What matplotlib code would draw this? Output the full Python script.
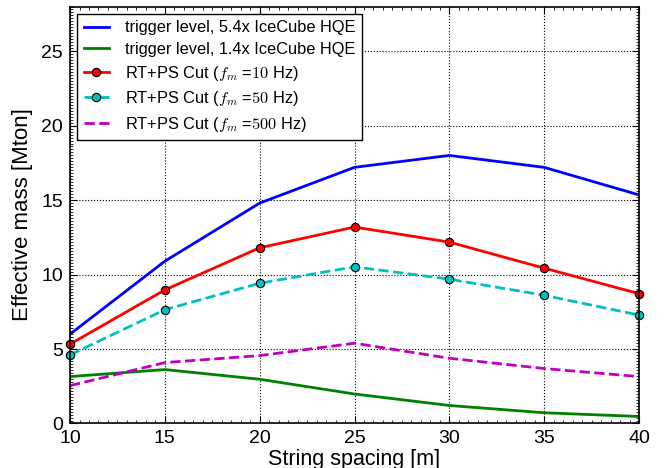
import matplotlib
matplotlib.use("Agg")
import matplotlib.pyplot as plt
from matplotlib.ticker import MultipleLocator

plt.rcParams["font.family"] = ["Liberation Sans", "DejaVu Sans"]
plt.rcParams["mathtext.fontset"] = "cm"

spacing = [10, 15, 20, 25, 30, 35, 40]

trig_54 = [6.0, 10.9, 14.8, 17.2, 18.0, 17.2, 15.35]
trig_14 = [3.15, 3.62, 2.97, 1.98, 1.21, 0.72, 0.47]
cut_10hz = [5.33, 8.97, 11.8, 13.19, 12.18, 10.43, 8.72]
cut_50hz = [4.61, 7.64, 9.42, 10.52, 9.69, 8.61, 7.28]
cut_500hz = [2.54, 4.09, 4.56, 5.39, 4.38, 3.69, 3.15]


def main() -> None:
    fig = plt.figure(figsize=(6.65, 4.68), dpi=100)
    ax = fig.add_axes([0.1053, 0.0951, 0.8556, 0.891])

    ax.plot(spacing, trig_54, color="b", lw=2, label="trigger level, 5.4x IceCube HQE")
    ax.plot(spacing, trig_14, color="g", lw=2, label="trigger level, 1.4x IceCube HQE")
    ax.plot(spacing, cut_10hz, color="r", lw=2, marker="o", ms=6, mec="k", mew=0.8,
            label=r"RT+PS Cut ($f_m$ =$10$ Hz)", clip_on=False)
    ax.plot(spacing, cut_50hz, color="c", lw=2, ls="--", marker="o", ms=6, mec="k", mew=0.8,
            label=r"RT+PS Cut ($f_m$ =$50$ Hz)", clip_on=False)
    ax.plot(spacing, cut_500hz, color="m", lw=2, ls="--",
            label=r"RT+PS Cut ($f_m$ =$500$ Hz)")

    ax.set_xlim(10, 40)
    ax.set_ylim(0, 28)
    ax.xaxis.set_major_locator(MultipleLocator(5))
    ax.yaxis.set_major_locator(MultipleLocator(5))
    ax.xaxis.set_minor_locator(MultipleLocator(0.5))
    ax.yaxis.set_minor_locator(MultipleLocator(0.2))
    ax.tick_params(which="both", direction="in", top=True, right=True,
                   labelsize=14, pad=5)
    ax.tick_params(which="major", length=5, width=0.8)
    ax.tick_params(which="minor", length=2.5, width=0.6)
    for s in ax.spines.values():
        s.set_linewidth(1.2)

    ax.grid(True, color="k", ls=":", lw=0.8)
    ax.set_xlabel("String spacing [m]", fontsize=15.5, labelpad=1)
    ax.set_ylabel("Effective mass [Mton]", fontsize=16, labelpad=6)

    leg = ax.legend(loc="upper left", fontsize=11.8, fancybox=False, framealpha=1,
                    edgecolor="k", borderaxespad=0.45, handlelength=1.5,
                    handletextpad=1.0, labelspacing=0.4)
    leg.get_frame().set_linewidth(1.0)

    fig.savefig("out.png", dpi=100)


if __name__ == "__main__":
    main()
